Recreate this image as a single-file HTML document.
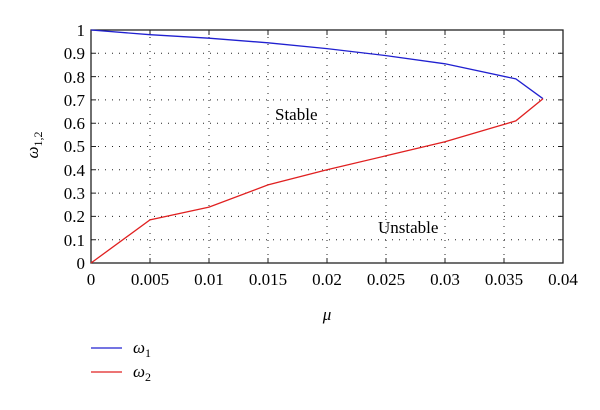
<!DOCTYPE html>
<html><head><style>body{margin:0;background:#fff}</style></head><body>
<svg width="600" height="405" xmlns="http://www.w3.org/2000/svg" font-family="Liberation Serif, serif" font-size="17">
<rect width="600" height="405" fill="#fff"/>
<g stroke="#222" stroke-width="1" stroke-dasharray="1,6">
<line x1="150" y1="30" x2="150" y2="263"/><line x1="209" y1="30" x2="209" y2="263"/><line x1="268" y1="30" x2="268" y2="263"/><line x1="327" y1="30" x2="327" y2="263"/><line x1="386" y1="30" x2="386" y2="263"/><line x1="445" y1="30" x2="445" y2="263"/><line x1="504" y1="30" x2="504" y2="263"/>
<line x1="91" y1="53.3" x2="563" y2="53.3"/><line x1="91" y1="76.6" x2="563" y2="76.6"/><line x1="91" y1="99.9" x2="563" y2="99.9"/><line x1="91" y1="123.2" x2="563" y2="123.2"/><line x1="91" y1="146.5" x2="563" y2="146.5"/><line x1="91" y1="169.8" x2="563" y2="169.8"/><line x1="91" y1="193.1" x2="563" y2="193.1"/><line x1="91" y1="216.4" x2="563" y2="216.4"/><line x1="91" y1="239.7" x2="563" y2="239.7"/>
</g>
<g stroke="#222" stroke-width="1">
<path d="M150 263v-5M209 263v-5M268 263v-5M327 263v-5M386 263v-5M445 263v-5M504 263v-5M150 30v5M209 30v5M268 30v5M327 30v5M386 30v5M445 30v5M504 30v5"/>
<path d="M91 53.3h5M91 76.6h5M91 99.9h5M91 123.2h5M91 146.5h5M91 169.8h5M91 193.1h5M91 216.4h5M91 239.7h5M563 53.3h-5M563 76.6h-5M563 99.9h-5M563 123.2h-5M563 146.5h-5M563 169.8h-5M563 193.1h-5M563 216.4h-5M563 239.7h-5"/>
</g>
<rect x="91" y="30" width="472" height="233" fill="none" stroke="#222" stroke-width="1.3"/>
<polyline fill="none" stroke="#2020d0" stroke-width="1.3" points="91,30 150,34.7 209,38.2 268,42.8 327,48.6 386,55.6 445,63.8 515.8,78.9 543,98.7"/>
<polyline fill="none" stroke="#e02020" stroke-width="1.3" points="91,263 150,219.9 209,207.1 268,184.9 327,169.8 386,155.8 445,141.8 515.8,120.9 543,98.7"/>
<g text-anchor="end">
<text x="85" y="36">1</text><text x="85" y="59">0.9</text><text x="85" y="83">0.8</text><text x="85" y="106">0.7</text><text x="85" y="129">0.6</text><text x="85" y="152">0.5</text><text x="85" y="176">0.4</text><text x="85" y="199">0.3</text><text x="85" y="222">0.2</text><text x="85" y="246">0.1</text><text x="85" y="269">0</text>
</g>
<g text-anchor="middle">
<text x="91" y="285">0</text><text x="150" y="285">0.005</text><text x="209" y="285">0.01</text><text x="268" y="285">0.015</text><text x="327" y="285">0.02</text><text x="386" y="285">0.025</text><text x="445" y="285">0.03</text><text x="504" y="285">0.035</text><text x="563" y="285">0.04</text>
<text x="327" y="320" font-style="italic">μ</text>
</g>
<text x="275" y="120">Stable</text>
<text x="378" y="233">Unstable</text>
<text transform="translate(38,145) rotate(-90)" text-anchor="middle" font-style="italic">ω<tspan font-size="12" dy="4" font-style="normal">1,2</tspan></text>
<line x1="91" y1="348" x2="122" y2="348" stroke="#2020d0" stroke-width="1.3"/>
<line x1="91" y1="372" x2="122" y2="372" stroke="#e02020" stroke-width="1.3"/>
<text x="133" y="353" font-style="italic">ω<tspan font-size="12" dy="4" font-style="normal">1</tspan></text>
<text x="133" y="377" font-style="italic">ω<tspan font-size="12" dy="4" font-style="normal">2</tspan></text>
</svg>
</body></html>
